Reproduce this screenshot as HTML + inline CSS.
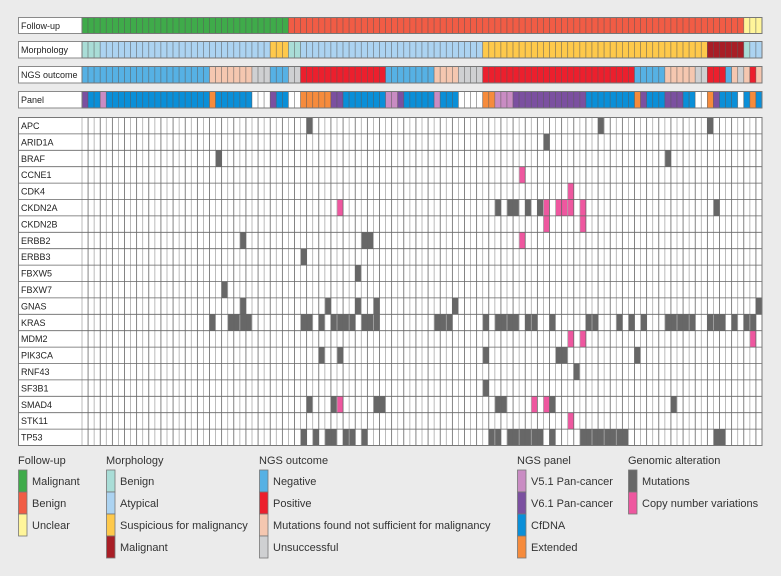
<!DOCTYPE html>
<html><head><meta charset="utf-8"><style>
body{margin:0;background:#ebebeb;font-family:"Liberation Sans",sans-serif;}
svg{display:block}
</style></head><body>
<svg id="chart" width="781" height="576" xmlns="http://www.w3.org/2000/svg"></svg>
<script>
const nCols = 112;
const followUpRuns = [['M',34],['B',75],['U',3]];
const morphologyRuns = [['b',3],['a',28],['s',3],['b',2],['a',30],['s',37],['m',6],['b',1],['a',2]];
const ngsRuns = [['N',21],['F',7],['U',3],['N',3],['U',2],['P',14],['N',8],['F',4],['U',4],['P',25],['N',5],['F',5],['U',2],['P',3],['N',1],['F',1],['U',1],['F',1],['P',1],['F',1]];
const panelRuns = [['6',1],['C',2],['5',1],['C',17],['E',1],['C',6],['W',3],['6',1],['C',2],['W',2],['E',5],['6',2],['C',7],['5',2],['6',1],['C',5],['5',1],['C',3],['W',4],['E',2],['5',3],['6',12],['C',8],['E',1],['6',1],['C',3],['6',3],['C',2],['W',2],['E',1],['6',1],['C',3],['W',1],['C',1],['E',1],['C',1]];
const genes = ['APC','ARID1A','BRAF','CCNE1','CDK4','CKDN2A','CKDN2B','ERBB2','ERBB3','FBXW5','FBXW7','GNAS','KRAS','MDM2','PIK3CA','RNF43','SF3B1','SMAD4','STK11','TP53'];
const mutations = {
 APC:[37,85,103], ARID1A:[76], BRAF:[22,96], CKDN2A:[68,70,71,73,75,104],
 ERBB2:[26,46,47], ERBB3:[36], FBXW5:[45], FBXW7:[23], GNAS:[26,40,45,48,61,111],
 KRAS:[21,24,25,26,27,36,37,39,41,42,43,44,46,47,48,58,59,60,66,68,69,70,71,73,74,77,83,84,88,90,92,96,97,98,99,100,103,104,105,107,109,110],
 PIK3CA:[39,42,66,78,79,91], RNF43:[81], SF3B1:[66], SMAD4:[37,41,48,49,68,69,77,97],
 TP53:[36,38,40,41,43,44,46,67,68,70,71,72,73,74,75,77,82,83,84,85,86,87,88,89,104,105]
};
const cnvs = {
 CCNE1:[72], CDK4:[80], CKDN2A:[42,76,78,79,80,82], CKDN2B:[76,82], ERBB2:[72],
 MDM2:[80,82,110], SMAD4:[42,74,76], STK11:[80]
};

const colors = {
 follow:{M:'#3fab4a',B:'#f15c45',U:'#fff59a'},
 morph:{b:'#a9ddd7',a:'#acd3f1',s:'#fec94b',m:'#a81e26'},
 ngs:{N:'#56b1e4',P:'#ec1f2d',F:'#f5c7b0',U:'#cfd0d2'},
 panel:{'5':'#c98cc3','6':'#7b50a0',C:'#0a8fd8',E:'#f68b3c',W:'#ffffff'}
};
const svg = document.getElementById('chart');
const NS='http://www.w3.org/2000/svg';
const x0=82, x1=762, colW=(x1-x0)/nCols;
function xOf(c){return x0+c*colW;}
function el(tag,attrs,parent){const e=document.createElementNS(NS,tag);for(const k in attrs)e.setAttribute(k,attrs[k]);(parent||svg).appendChild(e);return e;}
function expand(runs){const out=[];runs.forEach(r=>{for(let i=0;i<r[1];i++)out.push(r[0]);});return out;}

const tracks=[
 {label:'Follow-up',name:'follow-up-track',runs:followUpRuns,pal:colors.follow,y:17.5,h:16},
 {label:'Morphology',name:'morphology-track',runs:morphologyRuns,pal:colors.morph,y:41.5,h:16.5},
 {label:'NGS outcome',name:'ngs-outcome-track',runs:ngsRuns,pal:colors.ngs,y:66.5,h:16.5},
 {label:'Panel',name:'panel-track',runs:panelRuns,pal:colors.panel,y:91.5,h:16.5}
];
tracks.forEach(t=>{
 const g=el('g',{});
 
 
 const lb=el('rect',{x:18.5,y:t.y,width:63.5,height:t.h,fill:'#fff',stroke:'#8a8a8a','stroke-width':1},g);
 
 
 const tx=el('text',{x:21,y:t.y+t.h/2+3.3,'font-size':9,fill:'#222'},g);
 tx.textContent=t.label;
 
 
 expand(t.runs).forEach((v,c)=>{
  const r=el('rect',{x:xOf(c),y:t.y,width:colW,height:t.h,fill:t.pal[v],stroke:'#555','stroke-opacity':0.55,'stroke-width':0.7},g);
  
  
 });
 el('rect',{x:x0,y:t.y,width:x1-x0,height:t.h,fill:'none',stroke:'#777','stroke-width':1},g);
});

const gy0=117.5, rowH=16.4;
const gg=el('g',{});


el('rect',{x:18.5,y:gy0,width:x1-18.5,height:rowH*genes.length,fill:'#fff'},gg);
genes.forEach((gname,r)=>{
 const y=gy0+r*rowH;
 const t=el('text',{x:21,y:y+rowH/2+3.3,'font-size':9,fill:'#222'},gg);
 t.textContent=gname;
 
 
 (mutations[gname]||[]).forEach(c=>{
  const m=el('rect',{x:xOf(c),y:y,width:colW,height:rowH,fill:'#676767'},gg);
  
  
 });
 (cnvs[gname]||[]).forEach(c=>{
  const m=el('rect',{x:xOf(c),y:y,width:colW,height:rowH,fill:'#ee579f'},gg);
  
  
 });
});
for(let c=0;c<=nCols;c++){
 el('line',{x1:xOf(c),x2:xOf(c),y1:gy0,y2:gy0+rowH*genes.length,stroke:c%2?'#666':'#aaa','stroke-width':0.8},gg);
}
for(let r=0;r<=genes.length;r++){
 el('line',{x1:18.5,x2:x1,y1:gy0+r*rowH,y2:gy0+r*rowH,stroke:'#666','stroke-width':0.8},gg);
}
el('rect',{x:18.5,y:gy0,width:x1-18.5,height:rowH*genes.length,fill:'none',stroke:'#777','stroke-width':1},gg);

const legends=[
 {title:'Follow-up',x:18,name:'follow-up',items:[['Malignant',colors.follow.M],['Benign',colors.follow.B],['Unclear',colors.follow.U]]},
 {title:'Morphology',x:106,name:'morphology',items:[['Benign',colors.morph.b],['Atypical',colors.morph.a],['Suspicious for malignancy',colors.morph.s],['Malignant',colors.morph.m]]},
 {title:'NGS outcome',x:259,name:'ngs-outcome',items:[['Negative',colors.ngs.N],['Positive',colors.ngs.P],['Mutations found not sufficient for malignancy',colors.ngs.F],['Unsuccessful',colors.ngs.U]]},
 {title:'NGS panel',x:517,name:'ngs-panel',items:[['V5.1 Pan-cancer',colors.panel['5']],['V6.1 Pan-cancer',colors.panel['6']],['CfDNA',colors.panel.C],['Extended',colors.panel.E]]},
 {title:'Genomic alteration',x:628,name:'genomic-alteration',items:[['Mutations','#676767'],['Copy number variations','#ee579f']]}
];
legends.forEach(L=>{
 const g=el('g',{});
 
 
 const t=el('text',{x:L.x,y:464,'font-size':11,fill:'#333'},g);
 t.textContent=L.title;
 
 
 L.items.forEach((it,i)=>{
  const y=470+i*22;
  const s=el('rect',{x:L.x+0.5,y:y,width:8.5,height:22,fill:it[1],stroke:'#777','stroke-width':0.8},g);
  
  
  const lt=el('text',{x:L.x+14,y:y+15,'font-size':11,fill:'#333'},g);
  lt.textContent=it[0];
  
  
 });
});
</script>
</body></html>
